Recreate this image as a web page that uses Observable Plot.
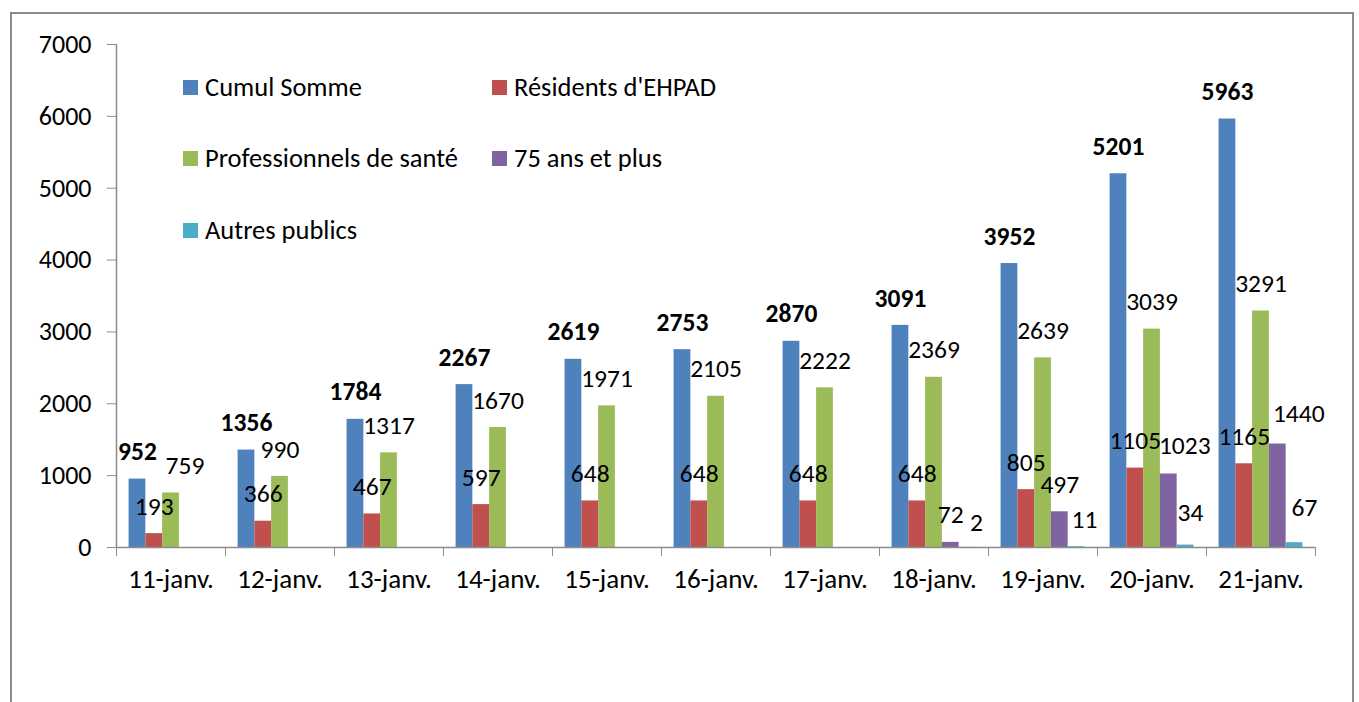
<!DOCTYPE html>
<html>
<head>
<meta charset="utf-8">
<script src="https://cdn.jsdelivr.net/npm/d3@7"></script>
<script src="https://cdn.jsdelivr.net/npm/@observablehq/plot@0.6"></script>
<style>
  html, body { margin: 0; padding: 0; background: #fff; }
  #wrap { position: relative; width: 1359px; height: 702px; overflow: hidden; font-family: Carlito, Calibri, Lato, sans-serif; }
  #frame { position: absolute; left: 10px; top: 12px; width: 1344px; height: 800px; border: 2px solid #8c8c8c; box-sizing: border-box; }
  #chart { position: absolute; left: 0; top: 0; }
  .leg { position: absolute; display: flex; align-items: center; height: 30px; font-size: 26.5px; color: #000; white-space: nowrap; }
  .leg span.sw { display: inline-block; width: 15px; height: 15px; margin-right: 7px; }
</style>
</head>
<body>
<div id="wrap">
  <div id="frame"></div>
  <div id="chart"></div>
  <div id="legend"></div>
</div>
<script>
// ---- data ----
const dates = ["11-janv.", "12-janv.", "13-janv.", "14-janv.", "15-janv.", "16-janv.", "17-janv.", "18-janv.", "19-janv.", "20-janv.", "21-janv."];
const seriesNames = ["Cumul Somme", "Résidents d'EHPAD", "Professionnels de santé", "75 ans et plus", "Autres publics"];
const cumulSomme = [952, 1356, 1784, 2267, 2619, 2753, 2870, 3091, 3952, 5201, 5963];
const residentsEhpad = [193, 366, 467, 597, 648, 648, 648, 648, 805, 1105, 1165];
const professionnelsSante = [759, 990, 1317, 1670, 1971, 2105, 2222, 2369, 2639, 3039, 3291];
const plus75 = [0, 0, 0, 0, 0, 0, 0, 72, 497, 1023, 1440];
const autresPublics = [0, 0, 0, 0, 0, 0, 0, 2, 11, 34, 67];
const yTicks = [0, 1000, 2000, 3000, 4000, 5000, 6000, 7000];
const colors = ["#4F81BD", "#C0504D", "#9BBB59", "#8064A2", "#4BACC6"];

// ---- table built from the arrays ----
const seriesValues = [cumulSomme, residentsEhpad, professionnelsSante, plus75, autresPublics];
const rows = [];
seriesValues.forEach((vals, k) => {
  vals.forEach((v, i) => rows.push({date: dates[i], series: seriesNames[k], k, value: v}));
});

// label placement tweaks (pixels), mimicking where the original placed a few labels
const nudges = {
  "Professionnels de santé|11-janv.": [14, 0],
  "75 ans et plus|20-janv.": [16, -1],
  "75 ans et plus|21-janv.": [21, -3],
  "Autres publics|18-janv.": [9, 2],
  "Autres publics|19-janv.": [8, 0],
  "Autres publics|20-janv.": [5, -5],
  "Autres publics|21-janv.": [10, -8]
};
const keyOf = d => d.series + "|" + d.date;
const labelled = rows.filter(d => d.value > 0);
const boldRows = labelled.filter(d => d.k === 0);
const plainRows = labelled.filter(d => d.k !== 0 && !nudges[keyOf(d)]);
const nudgedRows = labelled.filter(d => nudges[keyOf(d)]);

const FONT = "Carlito, Calibri, Lato, sans-serif";
const labelDy = -27;
const labelSize = 25.5;

const marks = [
  Plot.rect(rows, {
    fx: "date",
    x1: d => d.k + 0.75,
    x2: d => d.k + 1.75,
    y1: 0,
    y2: "value",
    fill: "series"
  }),
  Plot.ruleY([0], {stroke: "#8c8c8c", strokeWidth: 1.5}),
  Plot.ruleX([dates[0]], {fx: d => d, x: 0, y1: 0, y2: 7000, stroke: "#8c8c8c", strokeWidth: 1.5}),
  Plot.axisY({ticks: yTicks, tickSize: 9, tickPadding: 16, stroke: "#8c8c8c", fill: "#000", fontSize: 26, label: null, tickFormat: d => String(d)}),
  Plot.axisX({ticks: [0, 6.5], tickSize: 9, tickFormat: () => "", stroke: "#8c8c8c", label: null}),
  Plot.axisFx({anchor: "bottom", tickSize: 0, tickPadding: 21, fontSize: 27, fill: "#000", label: null}),
  Plot.text(boldRows, {
    fx: "date", x: d => d.k + 1.25, y: "value", text: d => String(d.value),
    dy: labelDy, fontSize: labelSize, fontWeight: "bold", fill: "#000"
  }),
  Plot.text(plainRows, {
    fx: "date", x: d => d.k + 1.25, y: "value", text: d => String(d.value),
    dy: labelDy, fontSize: labelSize, fill: "#000"
  }),
  ...nudgedRows.map(d => Plot.text([d], {
    fx: "date", x: r => r.k + 1.25, y: "value", text: r => String(r.value),
    dx: nudges[keyOf(d)][0], dy: labelDy + nudges[keyOf(d)][1], fontSize: labelSize, fill: "#000"
  }))
];

const chart = Plot.plot({
  width: 1359,
  height: 702,
  marginLeft: 114,
  marginRight: 42,
  marginTop: 44,
  marginBottom: 155,
  style: {fontFamily: FONT, fontSize: "26px", background: "transparent", color: "#000", overflow: "visible"},
  fx: {domain: dates, paddingInner: 0, paddingOuter: 0, label: null},
  x: {type: "linear", domain: [0, 6.5], label: null},
  y: {domain: [0, 7000], label: null},
  color: {domain: seriesNames, range: colors},
  marks
});
document.getElementById("chart").appendChild(chart);

// ---- legend (inside plot area, two columns) ----
const legendPos = [
  [183, 87], [492, 87],
  [183, 158], [492, 158],
  [183, 230]
];
const legend = document.getElementById("legend");
seriesNames.forEach((name, i) => {
  const el = document.createElement("div");
  el.className = "leg";
  el.style.left = legendPos[i][0] + "px";
  el.style.top = (legendPos[i][1] - 15) + "px";
  const sw = document.createElement("span");
  sw.className = "sw";
  sw.style.background = colors[i];
  el.appendChild(sw);
  el.appendChild(document.createTextNode(name));
  legend.appendChild(el);
});
</script>
</body>
</html>
